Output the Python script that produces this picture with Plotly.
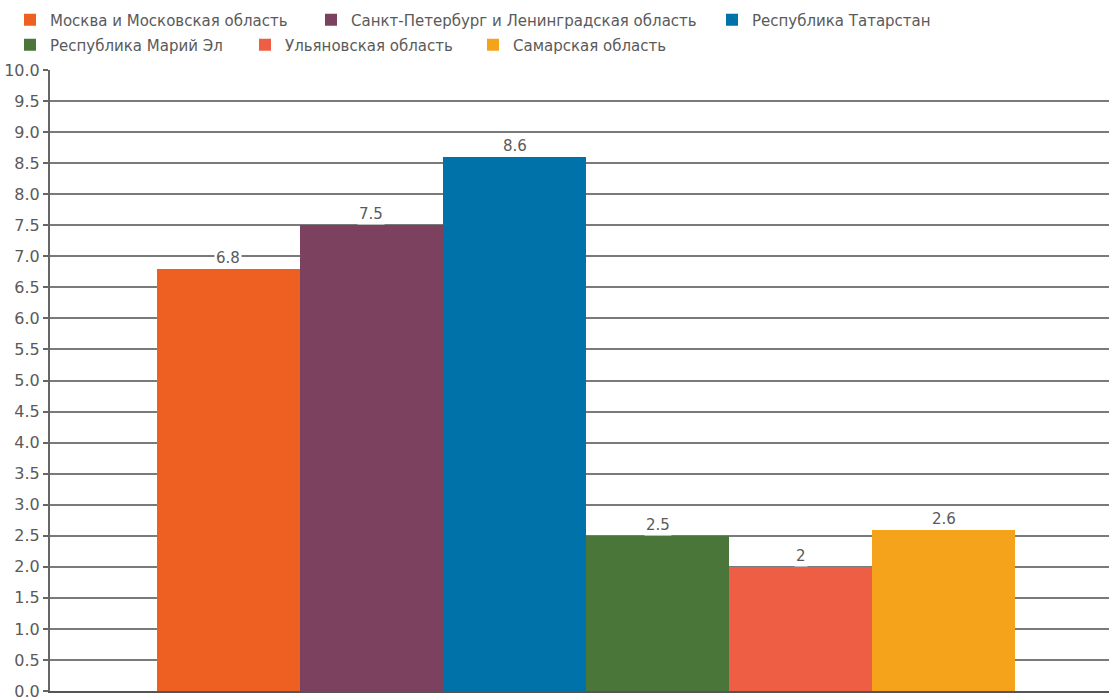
import plotly.graph_objects as go

# Regions and their values
regions = [
    "Москва и Московская область",
    "Санкт-Петербург и Ленинградская область",
    "Республика Татарстан",
    "Республика Марий Эл",
    "Ульяновская область",
    "Самарская область",
]
values = [6.8, 7.5, 8.6, 2.5, 2.0, 2.6]
value_labels = ["6.8", "7.5", "8.6", "2.5", "2", "2.6"]
colors = ["#ee5f22", "#7c415f", "#0072aa", "#4a7639", "#ee5e44", "#f6a31c"]

W, H = 1109, 698
ML, MR, MT, MB = 50, 0, 70, 7
PW, PH = W - ML - MR, H - MT - MB

FONT = "DejaVu Sans, Arial, sans-serif"
TEXT_COLOR = "#5a5a5a"

# Legend entry anchor points in pixels (left edge of symbol, row centre)
legend_px = [(24, 20), (325, 20), (726, 20), (24, 45), (259, 45), (487, 45)]

fig = go.Figure()
for i, (name, val, col) in enumerate(zip(regions, values, colors)):
    lg = "legend" if i == 0 else f"legend{i + 1}"
    fig.add_trace(go.Bar(
        x=[name], y=[val], name=name,
        marker=dict(color=col, line=dict(width=0)),
        legend=lg, showlegend=True,
        hoverinfo="skip",
    ))

layout_legends = {}
for i, (px, py) in enumerate(legend_px):
    key = "legend" if i == 0 else f"legend{i + 1}"
    layout_legends[key] = dict(
        x=(px - 14 - ML) / PW,
        y=(H - MB - py) / PH,
        xanchor="left", yanchor="middle",
        orientation="h",
        bgcolor="rgba(0,0,0,0)",
        borderwidth=0,
        font=dict(family=FONT, size=15, color=TEXT_COLOR),
        itemclick=False, itemdoubleclick=False,
    )

annotations = []
for name, val, lab in zip(regions, values, value_labels):
    annotations.append(dict(
        x=name, y=val, xref="x", yref="y",
        text=lab, showarrow=False,
        yanchor="bottom", xanchor="center",
        bgcolor="white", borderpad=1,
        font=dict(family=FONT, size=15, color=TEXT_COLOR),
    ))

fig.update_layout(
    width=W, height=H,
    margin=dict(l=ML, r=MR, t=MT, b=MB, autoexpand=False),
    paper_bgcolor="white", plot_bgcolor="white",
    barmode="overlay", bargap=0,
    annotations=annotations,
    **layout_legends,
)

fig.update_xaxes(
    type="category",
    range=[-1.248, 6.157],
    showticklabels=False, ticks="",
    showgrid=False, zeroline=False,
    showline=True, linecolor="#555555", linewidth=2,
)
fig.update_yaxes(
    range=[0, 10], dtick=0.5, tick0=0, tickformat=".1f",
    showgrid=True, gridcolor="#7a7a7a", gridwidth=2,
    zeroline=False,
    showline=True, linecolor="#666666", linewidth=2,
    ticks="outside", ticklen=5, tickwidth=2, tickcolor="#666666",
    tickfont=dict(family=FONT, size=16, color=TEXT_COLOR),
    ticklabeloverflow="allow",
)

fig.write_html("out.html", config={"displayModeBar": False})
